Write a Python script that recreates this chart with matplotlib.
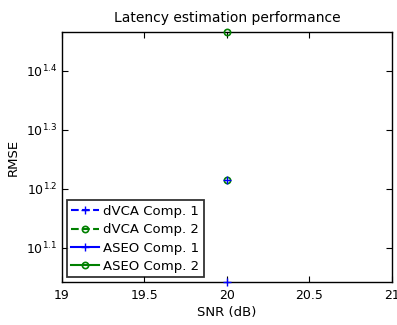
import numpy as np
import matplotlib.pyplot as plt
from matplotlib.ticker import FixedLocator, FixedFormatter, NullLocator

plt.rcParams['font.family'] = ['DejaVu Sans']
plt.rcParams['mathtext.fontset'] = 'dejavusans'

snr = [20]
dvca_comp1 = [16.4]
dvca_comp2 = [16.4]
aseo_comp1 = [11.02]
aseo_comp2 = [29.25]

ytick_exps = [1.1, 1.2, 1.3, 1.4]

fig = plt.figure(figsize=(3.97, 3.25), dpi=100)
ax = fig.add_axes([0.156, 0.132, 0.831, 0.77])

green = (0, 0.5, 0)
ax.plot(snr, dvca_comp2, '--o', color=green, ms=4.5, mew=1.2, mfc='none', label='dVCA Comp. 2', zorder=3)
ax.plot(snr, dvca_comp1, '--+', color='blue', ms=6, mew=1.0, label='dVCA Comp. 1', zorder=3)
ax.plot(snr, aseo_comp2, '-o', color=green, ms=4.5, mew=1.2, mfc='none', label='ASEO Comp. 2', zorder=3)
ax.plot(snr, aseo_comp1, '-+', color='blue', ms=6, mew=1.0, label='ASEO Comp. 1', zorder=3)

ax.set_yscale('log')
allv = dvca_comp1 + dvca_comp2 + aseo_comp1 + aseo_comp2
ax.set_ylim(min(allv), max(allv))
ax.set_xlim(19, 21)
ax.set_xticks([19, 19.5, 20, 20.5, 21])
ax.set_xticklabels(['19', '19.5', '20', '20.5', '21'])
ax.yaxis.set_major_locator(FixedLocator([10 ** e for e in ytick_exps]))
ax.yaxis.set_major_formatter(FixedFormatter(['$10^{%.1f}$' % e for e in ytick_exps]))
ax.yaxis.set_minor_locator(NullLocator())

ax.tick_params(direction='in', top=True, right=True, labelsize=9, length=4, width=0.8)
ax.tick_params(axis='x', pad=5)
for s in ax.spines.values():
    s.set_linewidth(1.0)

ax.set_xlabel('SNR (dB)', fontsize=9.5, labelpad=3)
ax.set_ylabel('RMSE', fontsize=9.5)
ax.set_title('Latency estimation performance', fontsize=10, pad=7)

h, l = ax.get_legend_handles_labels()
order = [1, 0, 3, 2]
leg = ax.legend([h[i] for i in order], [l[i] for i in order],
                loc='lower left', fontsize=9.5, frameon=True, fancybox=False,
                edgecolor='black', borderaxespad=0.35, handlelength=2.1,
                labelspacing=0.4, borderpad=0.35, handletextpad=0.3)
leg.get_frame().set_linewidth(1.3)
leg.set_zorder(5)
for line in ax.lines:
    line.set_clip_on(False)

fig.savefig('out.png', dpi=100)
